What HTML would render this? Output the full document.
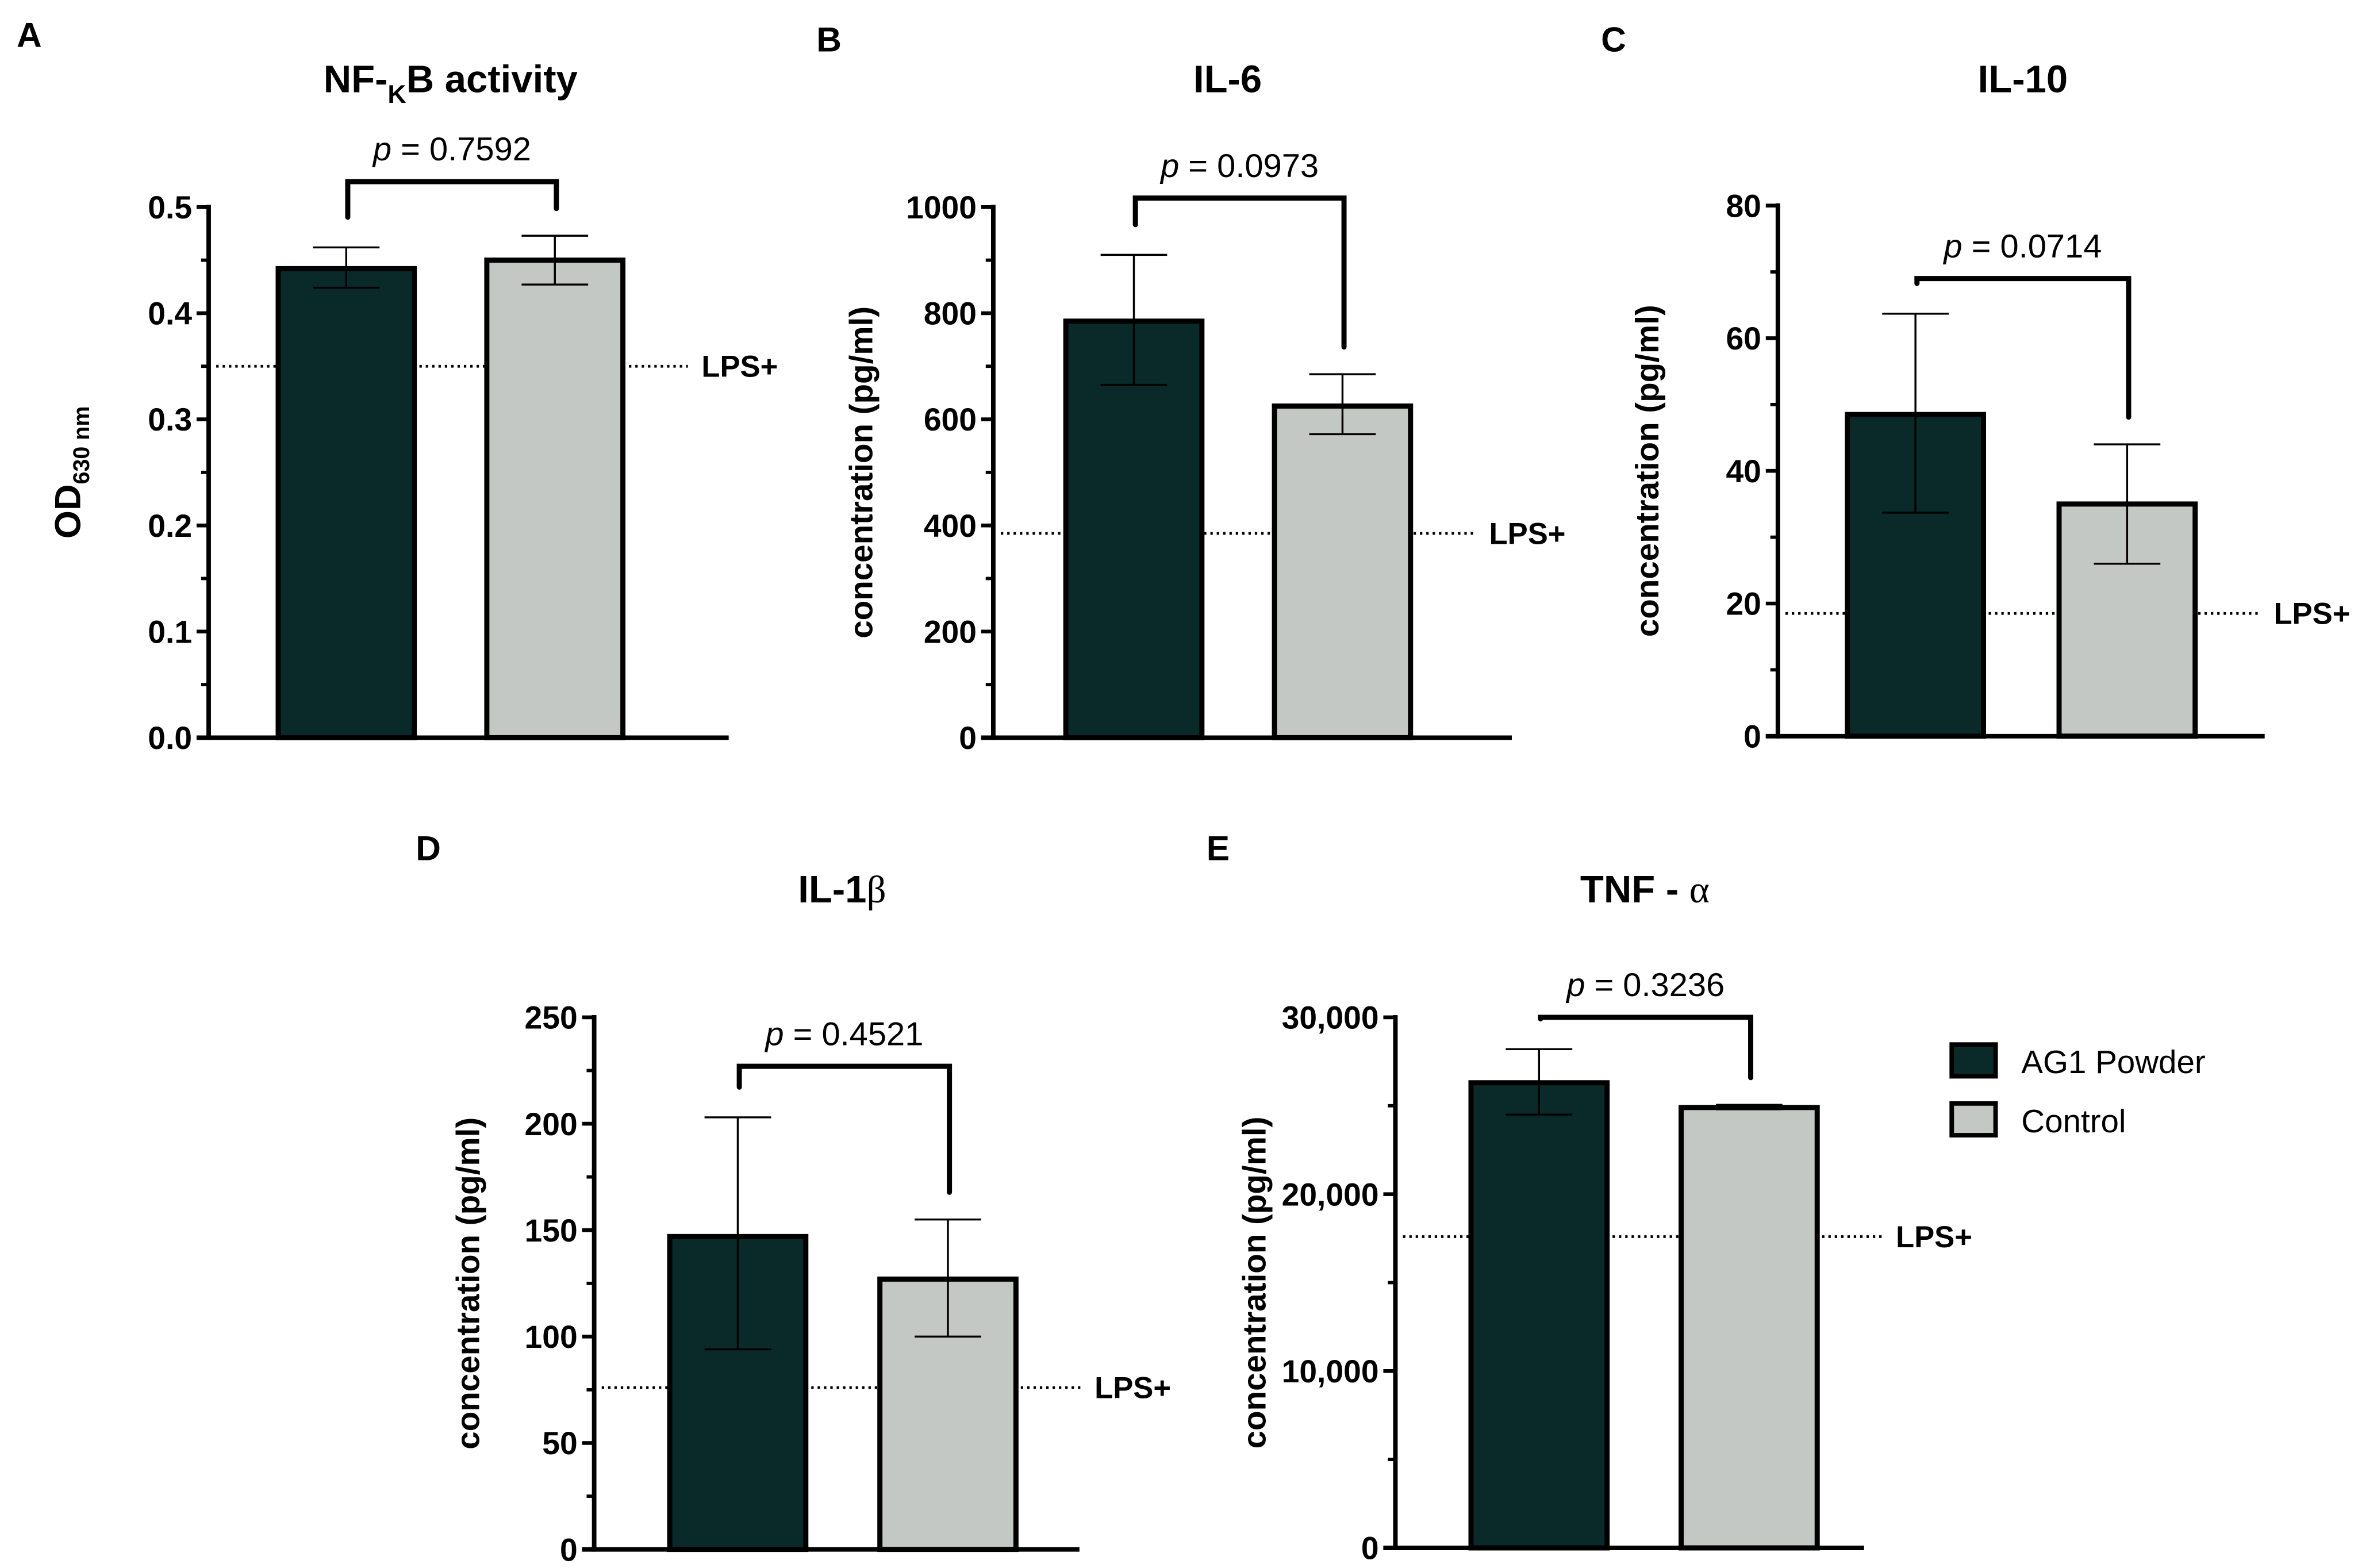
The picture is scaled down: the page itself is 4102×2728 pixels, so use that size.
<!DOCTYPE html>
<html><head><meta charset="utf-8"><style>html,body{margin:0;padding:0;background:#fff}svg{display:block}</style></head>
<body>
<svg id="fig" xmlns="http://www.w3.org/2000/svg" width="4102" height="2728" viewBox="0 0 1559.7 1037.3" font-family="'Liberation Sans', sans-serif"></svg>
<script>
// ---- data ----
const categories = ["AG1 Powder", "Control"];
const aMeans = [0.442, 0.450]; const aErrLow = [0.424, 0.427]; const aErrHigh = [0.462, 0.473]; const aLps = 0.35; const aP = "0.7592"; const aBracket = 0.524;
const aTicks = [0, 0.1, 0.2, 0.3, 0.4, 0.5]; const aTickLabels = ["0.0","0.1","0.2","0.3","0.4","0.5"];
const bMeans = [785, 625]; const bErrLow = [665, 572]; const bErrHigh = [910, 685]; const bLps = 385; const bP = "0.0973"; const bBracket = 1017;
const bTicks = [0, 200, 400, 600, 800, 1000]; const bTickLabels = ["0","200","400","600","800","1000"];
const cMeans = [48.5, 35]; const cErrLow = [33.7, 26]; const cErrHigh = [63.7, 44]; const cLps = 18.5; const cP = "0.0714"; const cBracket = 69;
const cTicks = [0, 20, 40, 60, 80]; const cTickLabels = ["0","20","40","60","80"];
const dMeans = [147, 127]; const dErrLow = [94, 100]; const dErrHigh = [203, 155]; const dLps = 76; const dP = "0.4521"; const dBracket = 227;
const dTicks = [0, 50, 100, 150, 200, 250]; const dTickLabels = ["0","50","100","150","200","250"];
const eMeans = [26300, 24900]; const eErrLow = [24500, 24800]; const eErrHigh = [28200, 25050]; const eLps = 17600; const eP = "0.3236"; const eBracket = 30000;
const eTicks = [0, 10000, 20000, 30000]; const eTickLabels = ["0","10,000","20,000","30,000"];

const NS = "http://www.w3.org/2000/svg";
const svg = document.getElementById("fig");
const colors = ["#0a2a2a", "#c3c8c4"];
function mk(tag, attrs, parent, text) {
  const e = document.createElementNS(NS, tag);
  for (const k in attrs) e.setAttribute(k, attrs[k]);
  if (text !== undefined) e.textContent = text;
  (parent || svg).appendChild(e);
  return e;
}
function panel(o) {
  const g = mk("g", {});
  
  
  const max = o.ticks[o.ticks.length - 1];
  const y = v => o.y0 - (v / max) * (o.y0 - o.y1);
  const L = mk("text", {x: o.lx, y: o.ly, "font-size": 23, "font-weight": "bold"}, g, o.letter);
  
  
  const T = mk("text", {x: o.tx, y: o.ty, "font-size": 25.5, "font-weight": "bold", "text-anchor": "middle"}, g);
  
  
  o.title(T);
  const Y = mk("text", {transform: `translate(${o.ax - o.ytOff},${(o.y0 + o.y1) / 2}) rotate(-90)`, "font-size": 21.5, "font-weight": "bold", "text-anchor": "middle"}, g);
  
  
  o.ytitle(Y);
  const lineEnd = o.bx[1] + 90 + 43;
  const lp = mk("line", {x1: o.ax + 5, x2: lineEnd, y1: y(o.lps), y2: y(o.lps), stroke: "#000", "stroke-width": 1.8, "stroke-dasharray": "1.6 2.6"}, g);
  
  
  const lt = mk("text", {x: lineEnd + 9, y: y(o.lps) + 7, "font-size": 20, "font-weight": "bold"}, g, "LPS+");
  
  
  for (let i = 0; i < 2; i++) {
    const top = y(o.means[i]);
    const b = mk("rect", {x: o.bx[i], y: top, width: 90, height: o.y0 - top, fill: colors[i], stroke: "#000", "stroke-width": 3.4}, g);
    
    
    const cx = o.bx[i] + 45;
    const e = mk("path", {d: `M${cx - 22},${y(o.hi[i])}H${cx + 22}M${cx},${y(o.hi[i])}V${y(o.lo[i])}M${cx - 22},${y(o.lo[i])}H${cx + 22}`, stroke: "#000", "stroke-width": 1.3, fill: "none"}, g);
    
    
  }
  const bxL = o.bx[0] + 46, bxR = o.bx[1] + 46, by = y(o.bracket);
  const br = mk("path", {d: `M${bxL},${y(o.hi[0]) - 20}V${by}H${bxR}V${y(o.hi[1]) - 18}`, stroke: "#000", "stroke-width": 3.4, fill: "none", "stroke-linecap": "round"}, g);
  
  
  const pt = mk("text", {x: (bxL + bxR) / 2, y: by - 14, "font-size": 22, "text-anchor": "middle"}, g);
  
  
  mk("tspan", {"font-style": "italic"}, pt, "p");
  mk("tspan", {}, pt, " = " + o.p);
  const ya = mk("line", {x1: o.ax, x2: o.ax, y1: o.y1 - 1.5, y2: o.y0 + 1.5, stroke: "#000", "stroke-width": 3}, g);
  
  
  const xa = mk("line", {x1: o.ax - 8, x2: o.xEnd, y1: o.y0, y2: o.y0, stroke: "#000", "stroke-width": 3}, g);
  
  
  for (let i = 0; i < o.ticks.length; i++) {
    const ty = y(o.ticks[i]);
    mk("line", {x1: o.ax - 8, x2: o.ax, y1: ty, y2: ty, stroke: "#000", "stroke-width": 2.5}, g);
    const tl = mk("text", {x: o.ax - 11, y: ty + 7.5, "font-size": 21, "font-weight": "bold", "text-anchor": "end"}, g, o.labels[i]);
    
    
    if (i < o.ticks.length - 1) {
      const my = y((o.ticks[i] + o.ticks[i + 1]) / 2);
      mk("line", {x1: o.ax - 5, x2: o.ax, y1: my, y2: my, stroke: "#000", "stroke-width": 2.2}, g);
    }
  }
}
panel({name: "panel-a-nfkb", letter: "A", lx: 11, ly: 31, tx: 298, ty: 61, ax: 138, y0: 488, y1: 137, xEnd: 482, bx: [184, 322], ytOff: 85,
  ticks: aTicks, labels: aTickLabels, means: aMeans, lo: aErrLow, hi: aErrHigh, lps: aLps, p: aP, bracket: aBracket,
  title: t => { mk("tspan", {}, t, "NF-"); mk("tspan", {dy: 7, "font-size": 17}, t, "K"); mk("tspan", {dy: -7}, t, "B activity"); },
  ytitle: t => { mk("tspan", {"font-size": 24}, t, "OD"); mk("tspan", {dy: 6, "font-size": 15}, t, "630 nm"); }});
panel({name: "panel-b-il6", letter: "B", lx: 540, ly: 34, tx: 812, ty: 61, ax: 657, y0: 488, y1: 137, xEnd: 1000, bx: [705, 843], ytOff: 80,
  ticks: bTicks, labels: bTickLabels, means: bMeans, lo: bErrLow, hi: bErrHigh, lps: bLps, p: bP, bracket: bBracket,
  title: t => { t.textContent = "IL-6"; }, ytitle: t => { t.textContent = "concentration (pg/ml)"; }});
panel({name: "panel-c-il10", letter: "C", lx: 1059, ly: 34, tx: 1338, ty: 61, ax: 1176, y0: 487, y1: 136, xEnd: 1498, bx: [1222, 1362], ytOff: 79,
  ticks: cTicks, labels: cTickLabels, means: cMeans, lo: cErrLow, hi: cErrHigh, lps: cLps, p: cP, bracket: cBracket,
  title: t => { t.textContent = "IL-10"; }, ytitle: t => { t.textContent = "concentration (pg/ml)"; }});
panel({name: "panel-d-il1b", letter: "D", lx: 275, ly: 569, tx: 557, ty: 597, ax: 393, y0: 1025, y1: 673, xEnd: 714, bx: [443, 582], ytOff: 76,
  ticks: dTicks, labels: dTickLabels, means: dMeans, lo: dErrLow, hi: dErrHigh, lps: dLps, p: dP, bracket: dBracket,
  title: t => { mk("tspan", {}, t, "IL-1"); mk("tspan", {"font-weight": "normal", "font-family": "'Liberation Serif', serif"}, t, "β"); },
  ytitle: t => { t.textContent = "concentration (pg/ml)"; }});
panel({name: "panel-e-tnfa", letter: "E", lx: 798, ly: 569, tx: 1088, ty: 597, ax: 923, y0: 1024, y1: 673, xEnd: 1233, bx: [973, 1112], ytOff: 86,
  ticks: eTicks, labels: eTickLabels, means: eMeans, lo: eErrLow, hi: eErrHigh, lps: eLps, p: eP, bracket: eBracket,
  title: t => { mk("tspan", {}, t, "TNF - "); mk("tspan", {"font-weight": "normal", "font-family": "'Liberation Serif', serif"}, t, "α"); },
  ytitle: t => { t.textContent = "concentration (pg/ml)"; }});
const lg = mk("g", {});


for (let i = 0; i < categories.length; i++) {
  const yy = 691 + i * 39;
  const s = mk("rect", {x: 1291, y: yy, width: 29, height: 21, fill: colors[i], stroke: "#000", "stroke-width": 3}, lg);
  
  
  const t = mk("text", {x: 1337, y: yy + 19, "font-size": 21.5}, lg, categories[i]);
  
  
}
</script>
</body></html>
